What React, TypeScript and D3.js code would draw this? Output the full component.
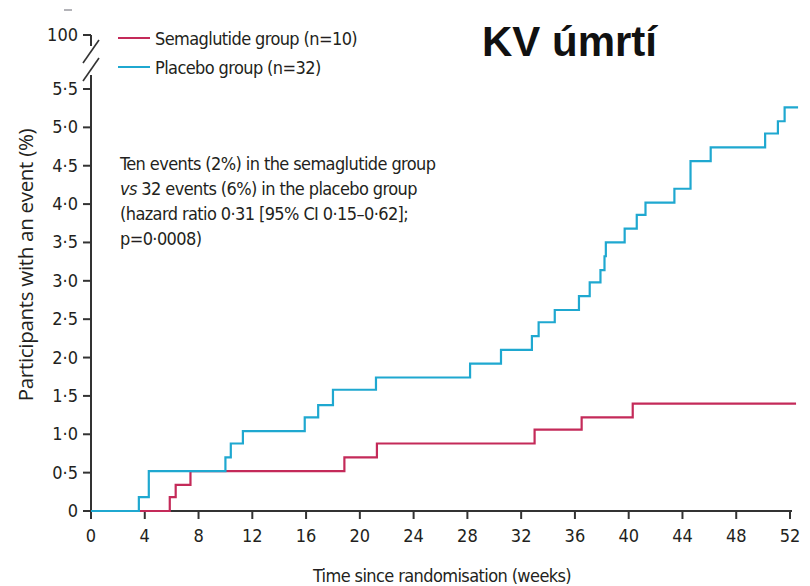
import React from "react";
import * as d3 from "d3";

// Kaplan–Meier step points: week at which the cumulative incidence changes, and the new value (%)
const semaWeeks = [0, 5.86, 6.3, 7.4, 18.85, 21.27, 33.0, 36.5, 40.3, 52.45];
const semaValues = [0, 0.18, 0.34, 0.52, 0.7, 0.88, 1.06, 1.22, 1.4, 1.4];

const placeboWeeks = [
  0, 3.56, 4.3, 10.0, 10.4, 11.3, 15.9, 16.9, 18.0, 21.2, 28.2, 30.5, 32.8, 33.3,
  34.5, 36.3, 37.1, 37.9, 38.2, 38.3, 39.7, 40.6, 41.25, 43.4, 44.6, 46.1, 50.15,
  51.1, 51.6, 52.6,
];
const placeboValues = [
  0, 0.18, 0.52, 0.7, 0.88, 1.04, 1.22, 1.38, 1.58, 1.74, 1.92, 2.1, 2.28, 2.46,
  2.62, 2.8, 2.98, 3.14, 3.32, 3.5, 3.68, 3.86, 4.02, 4.2, 4.56, 4.74, 4.92, 5.08,
  5.26, 5.26,
];

const xTicks = [0, 4, 8, 12, 16, 20, 24, 28, 32, 36, 40, 44, 48, 52];
const yTicks = [0, 0.5, 1, 1.5, 2, 2.5, 3, 3.5, 4, 4.5, 5, 5.5];
const yBreakLabel = "100";

const seriesNames = ["Semaglutide group (n=10)", "Placebo group (n=32)"];
const annotationLines = [
  "Ten events (2%) in the semaglutide group",
  "vs 32 events (6%) in the placebo group",
  "(hazard ratio 0·31 [95% CI 0·15–0·62];",
  "p=0·0008)",
];

const SEMA = "#c42a59";
const PLACEBO = "#1fa8d0";
const AXIS = "#333333";
const INK = "#231f20";
const NARROW = "'DejaVu Sans Condensed', 'DejaVu Sans', sans-serif";
const TIGHT = -0.6;

const fmt = (v: number) => (v === 0 ? "0" : d3.format(".1f")(v).replace(".", "·"));

export default function App() {
  const x = d3.scaleLinear().domain([0, 52]).range([91, 790]);
  const y = d3.scaleLinear().domain([0, 5.5]).range([511, 89]);
  const yTop = 35; // position of the broken-axis "100" tick

  const step = d3
    .line<[number, number]>()
    .x((d) => x(d[0]))
    .y((d) => y(d[1]))
    .curve(d3.curveStepAfter);

  const semaPts = semaWeeks.map((w, i) => [w, semaValues[i]] as [number, number]);
  const placeboPts = placeboWeeks.map((w, i) => [w, placeboValues[i]] as [number, number]);

  const x0 = x(0);
  const y0 = y(0);

  return (
    <svg
      width={810}
      height={586}
      style={{ position: "absolute", left: 0, top: 0, background: "#fff" }}
      fontFamily={NARROW}
    >
      <rect width={810} height={586} fill="#fff" />
      <line x1={64} x2={72} y1={10} y2={10} stroke="#9a9aa0" strokeWidth={1.5} />

      {/* y axis with break */}
      <g stroke={AXIS} strokeWidth={2} fill="none">
        <line x1={x0} x2={x0} y1={y0} y2={75} />
        <line x1={x0} x2={x0} y1={yTop} y2={46} />
        <line x1={x0 - 8} x2={x0} y1={yTop} y2={yTop} />
        <line x1={99} y1={40} x2={83} y2={63} strokeWidth={1.6} />
        <line x1={99} y1={58} x2={83} y2={81} strokeWidth={1.6} />
        {yTicks.map((t) => (
          <line key={t} x1={x0 - 8} x2={x0} y1={y(t)} y2={y(t)} />
        ))}
      </g>
      <g fontSize={18} fill={INK} textAnchor="end">
        <text x={78} y={yTop + 6}>{yBreakLabel}</text>
        {yTicks.map((t) => (
          <text key={t} x={78} y={y(t) + 6}>
            {fmt(t)}
          </text>
        ))}
      </g>

      {/* x axis */}
      <g stroke={AXIS} strokeWidth={2}>
        <line x1={x0} x2={x(52) + 2} y1={y0} y2={y0} />
        {xTicks.map((t) => (
          <line key={t} x1={x(t)} x2={x(t)} y1={y0} y2={y0 + 8} />
        ))}
      </g>
      <g fontSize={18} fill={INK} textAnchor="middle">
        {xTicks.map((t) => (
          <text key={t} x={x(t)} y={542}>
            {t}
          </text>
        ))}
      </g>
      <text x={442} y={582} fontSize={18} fill={INK} textAnchor="middle" letterSpacing={TIGHT}>
        Time since randomisation (weeks)
      </text>
      <text
        transform="translate(33,265) rotate(-90)"
        fontSize={20.5}
        fill={INK}
        textAnchor="middle"
        fontFamily="'Open Sans', 'DejaVu Sans', sans-serif"
        letterSpacing={-0.3}
      >
        Participants with an event (%)
      </text>

      {/* curves */}
      <path d={step(semaPts) ?? ""} fill="none" stroke={SEMA} strokeWidth={2.2} />
      <path d={step(placeboPts) ?? ""} fill="none" stroke={PLACEBO} strokeWidth={2.2} />

      {/* legend */}
      <g fontSize={18} fill={INK} letterSpacing={TIGHT}>
        <line x1={118} x2={150} y1={38} y2={38} stroke={SEMA} strokeWidth={2} />
        <text x={155} y={45}>{seriesNames[0]}</text>
        <line x1={118} x2={150} y1={67} y2={67} stroke={PLACEBO} strokeWidth={2} />
        <text x={155} y={74}>{seriesNames[1]}</text>
      </g>

      {/* annotation */}
      <g fontSize={18} fill={INK} letterSpacing={TIGHT}>
        {annotationLines.map((l, i) => (
          <text key={i} x={120} y={170 + i * 25}>
            {i === 1 ? (
              <>
                <tspan fontStyle="italic">vs</tspan>
                {l.slice(2)}
              </>
            ) : (
              l
            )}
          </text>
        ))}
      </g>

      {/* title */}
      <text
        x={482}
        y={56}
        fontSize={42}
        fontWeight="bold"
        fill="#111"
        fontFamily="'Liberation Sans', Arial, sans-serif"
      >
        KV úmrtí
      </text>
    </svg>
  );
}
